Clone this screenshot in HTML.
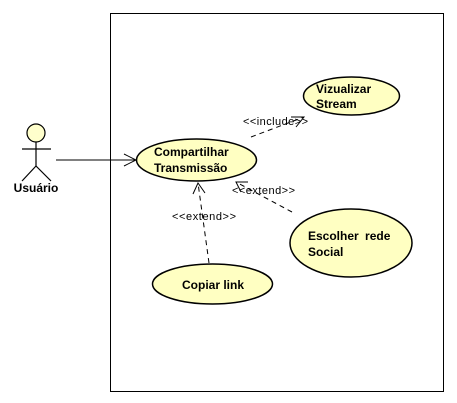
<!DOCTYPE html>
<html><head><style>body{margin:0;background:#fff}svg{display:block}</style></head><body>
<svg width="457" height="403" xmlns="http://www.w3.org/2000/svg" font-family="Liberation Sans, sans-serif">
<rect width="457" height="403" fill="#fff"/>
<rect x="110.5" y="13.5" width="333" height="378" fill="none" stroke="#000"/>
<g stroke="#000" fill="none" stroke-width="1.2">
<circle cx="36" cy="133" r="9" fill="#ffffcc"/>
<line x1="36" y1="142" x2="36" y2="166"/>
<line x1="22" y1="149" x2="51" y2="149"/>
<line x1="36" y1="166" x2="22" y2="181"/>
<line x1="36" y1="166" x2="51" y2="181"/>
</g>
<text x="36" y="192" font-size="12" font-weight="bold" text-anchor="middle">Usuário</text>
<g stroke="#000" fill="none">
<line x1="56" y1="160" x2="136" y2="160"/>
<polyline points="124,154 136,160 124,166"/>
</g>
<g stroke="#000" stroke-width="1.5" fill="#ffffc2">
<ellipse cx="196.5" cy="160" rx="60" ry="21"/>
<ellipse cx="351.5" cy="96" rx="48" ry="19"/>
<ellipse cx="351" cy="243" rx="61" ry="34"/>
<ellipse cx="212.5" cy="284" rx="60" ry="20"/>
</g>
<g font-size="12" font-weight="bold">
<text x="154" y="156">Compartilhar</text>
<text x="154" y="172">Transmissão</text>
<text x="316" y="93">Vizualizar</text>
<text x="316" y="108">Stream</text>
<text x="308" y="240" word-spacing="3">Escolher rede</text>
<text x="308" y="256">Social</text>
<text x="182" y="289">Copiar link</text>
</g>
<g stroke="#000" fill="none" stroke-dasharray="5,4">
<line x1="251" y1="137" x2="304" y2="117"/>
<line x1="292" y1="212" x2="236" y2="182"/>
<line x1="209" y1="263" x2="198" y2="183"/>
</g>
<g stroke="#000" fill="none">
<polyline points="291,117 304,117 296,127"/>
<polyline points="248,182 236,182 241,192"/>
<polyline points="193,194 198,183 205,193"/>
</g>
<g font-size="11">
<text x="243" y="125" textLength="65">&lt;&lt;include&gt;&gt;</text>
<text x="232" y="194" textLength="63">&lt;&lt;extend&gt;&gt;</text>
<text x="172" y="220" textLength="64">&lt;&lt;extend&gt;&gt;</text>
</g>
</svg>
</body></html>
